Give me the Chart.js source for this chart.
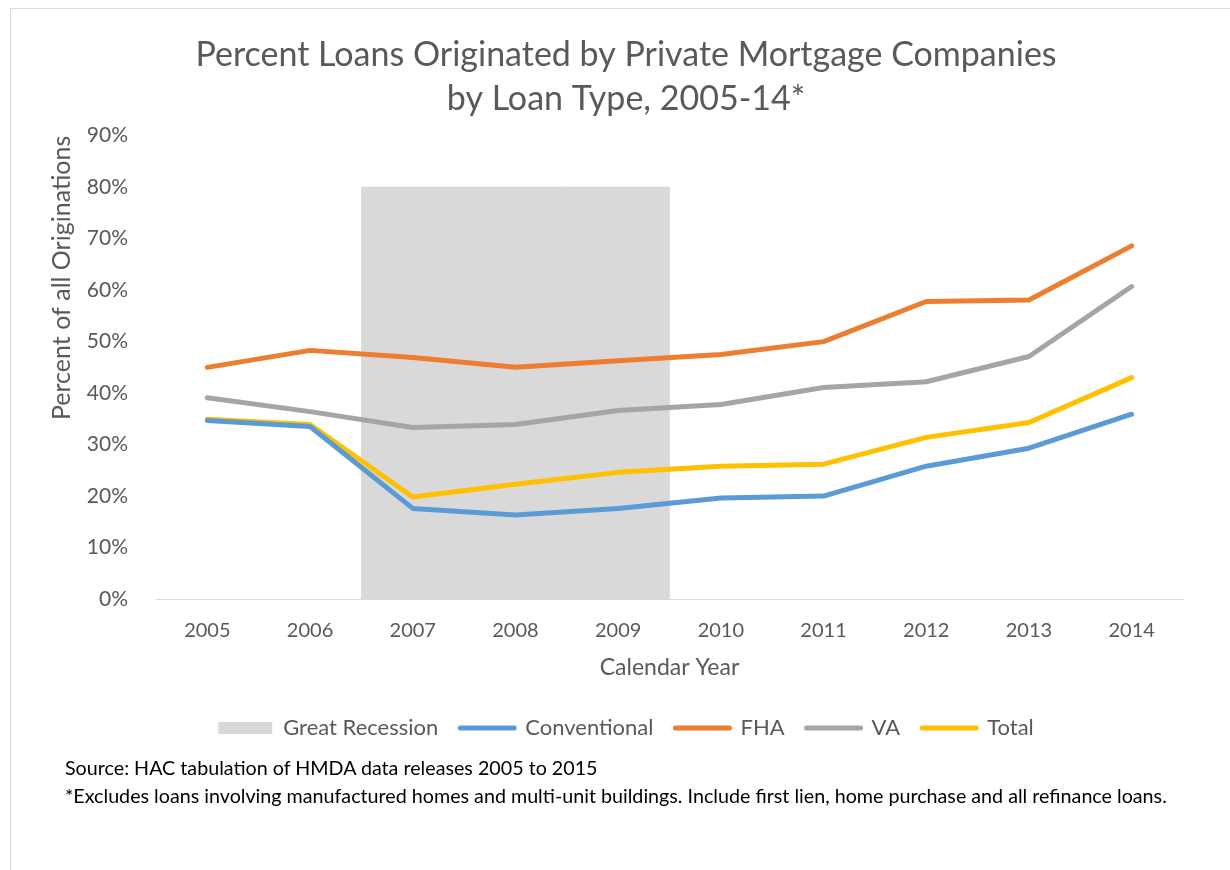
<!DOCTYPE html>
<html>
<head>
<meta charset="utf-8">
<script src="https://cdn.jsdelivr.net/npm/chart.js@4/dist/chart.umd.min.js"></script>
<style>
  body { margin: 0; background: #fff; font-family: Lato, "Open Sans", sans-serif; }
  #frame { position: absolute; left: 10px; top: 8px; width: 1220px; height: 862px;
           border-left: 1px solid #d9d9d9; border-top: 1px solid #d9d9d9; }
  #wrap { position: absolute; left: 0; top: 0; width: 1219px; height: 861px; }
  .note { position: absolute; left: 54px; color: #000; font-family: Lato, sans-serif;
          font-size: 19.7px; white-space: nowrap; }
</style>
</head>
<body>
<div id="frame">
  <div id="wrap"><canvas id="myChart"></canvas></div>
  <div class="note" style="top:747px">Source: HAC tabulation of HMDA data releases 2005 to 2015</div>
  <div class="note" style="top:775px">*Excludes loans involving manufactured homes and multi-unit buildings. Include first lien, home purchase and all refinance loans.</div>
</div>
<script>
// data for chart
const years = ["2005", "2006", "2007", "2008", "2009", "2010", "2011", "2012", "2013", "2014"];
const recession = [null, null, 80, 80, 80, null, null, null, null, null];
const conventional = [34.7, 33.5, 17.6, 16.3, 17.6, 19.6, 20.0, 25.8, 29.3, 35.9];
const fha = [45.0, 48.3, 46.9, 45.0, 46.3, 47.5, 50.0, 57.8, 58.1, 68.6];
const va = [39.1, 36.4, 33.3, 33.9, 36.6, 37.8, 41.1, 42.2, 47.1, 60.7];
const total = [34.9, 33.9, 19.8, 22.3, 24.6, 25.8, 26.2, 31.4, 34.3, 43.0];

const grey = "#595959";

function lineSet(label, data, color) {
  return {
    type: "line",
    label: label,
    data: data,
    borderColor: color,
    backgroundColor: color,
    borderWidth: 5,
    borderCapStyle: "round",
    borderJoinStyle: "round",
    pointRadius: 0,
    tension: 0,
    order: 1,
  };
}

new Chart("myChart", {
  data: {
    labels: years,
    datasets: [
      {
        type: "bar",
        label: "Great Recession",
        data: recession,
        backgroundColor: "#d9d9d9",
        barPercentage: 1,
        categoryPercentage: 1,
        order: 2,
      },
      lineSet("Conventional", conventional, "#5b9bd5"),
      lineSet("FHA", fha, "#ed7d31"),
      lineSet("VA", va, "#a5a5a5"),
      lineSet("Total", total, "#ffc000"),
    ],
  },
  options: {
    responsive: true,
    maintainAspectRatio: false,
    animation: false,
    layout: { padding: { left: 11, right: 0, top: 0, bottom: 121 } },
    plugins: {
      title: {
        display: true,
        text: ["Percent Loans Originated by Private Mortgage Companies", "by Loan Type, 2005-14*"],
        color: grey,
        font: { family: "Lato", size: 34, weight: "normal", lineHeight: 1.29 },
        padding: { top: 24, bottom: 15 },
      },
      legend: {
        position: "bottom",
        labels: {
          color: grey,
          font: { family: "Lato", size: 22 },
          usePointStyle: true,
          pointStyleWidth: 54,
          boxHeight: 12,
          padding: 22,
          generateLabels(chart) {
            return chart.data.datasets.map((ds, i) => ({
              text: ds.label,
              fillStyle: ds.backgroundColor,
              strokeStyle: ds.type === "bar" ? ds.backgroundColor : ds.borderColor,
              lineWidth: ds.type === "bar" ? 0 : 5,
              lineCap: "round",
              pointStyle: ds.type === "bar" ? "rect" : "line",
              fontColor: grey,
              datasetIndex: i,
              hidden: false,
            }));
          },
        },
      },
      tooltip: { enabled: false },
    },
    scales: {
      x: {
        grid: { display: false },
        border: { display: true, color: "#d9d9d9", width: 1 },
        ticks: { color: grey, font: { family: "Lato", size: 20 }, padding: 12 },
        title: { display: true, text: "Calendar Year", color: grey, font: { family: "Lato", size: 23 }, padding: { top: 0, bottom: 14 } },
        afterFit(scale) { scale.height = 96; },
      },
      y: {
        min: 0,
        max: 90,
        grid: { display: false },
        border: { display: false },
        ticks: { stepSize: 10, color: grey, font: { family: "Lato", size: 21 }, padding: 20,
                 callback: (v) => v + "%" },
        title: { display: true, text: "Percent of all Originations", color: grey, align: "end",
                 font: { family: "Lato", size: 25 }, padding: { top: 25, bottom: 0 } },
        afterFit(scale) { scale.width = 134; },
      },
      yr: {
        position: "right",
        display: true,
        grid: { display: false },
        border: { display: false },
        ticks: { display: false },
        afterFit(scale) { scale.width = 47; },
      },
    },
  },
});
</script>
</body>
</html>
